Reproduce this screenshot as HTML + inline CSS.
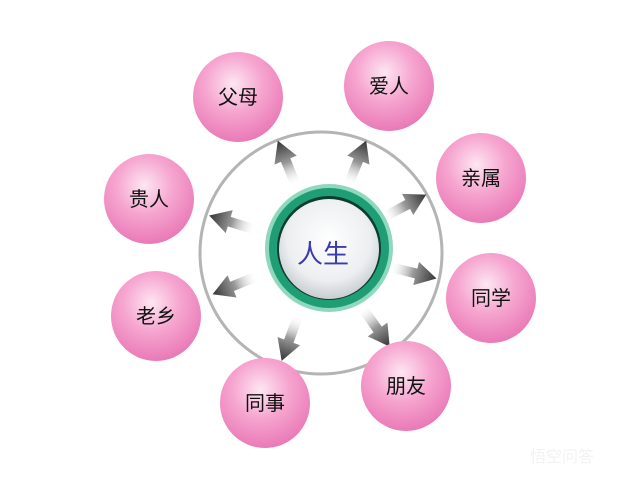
<!DOCTYPE html>
<html><head><meta charset="utf-8"><style>
html,body{margin:0;padding:0;background:#fff;}
svg{display:block;}
text{font-family:"Liberation Sans","Noto Sans CJK SC",sans-serif;}
</style></head><body>
<svg width="640" height="479" viewBox="0 0 640 479">
<defs>
<radialGradient id="pk" cx="0.45" cy="0.35" r="0.7">
<stop offset="0" stop-color="#fde6f2"/><stop offset="0.45" stop-color="#f6a6d0"/><stop offset="1" stop-color="#e873b3"/>
</radialGradient>
<radialGradient id="wh" cx="0.5" cy="0.4" r="0.6">
<stop offset="0" stop-color="#ffffff"/><stop offset="0.7" stop-color="#eceef0"/><stop offset="1" stop-color="#c9cdd0"/>
</radialGradient>
<linearGradient id="ar" x1="0" y1="0" x2="1" y2="0">
<stop offset="0" stop-color="#fff" stop-opacity="0"/><stop offset="0.5" stop-color="#999"/><stop offset="1" stop-color="#333"/>
</linearGradient>
<polygon id="a" points="70,-5 97,-5 97,-12 118,0 97,12 97,5 70,5" fill="url(#ar)"/>
</defs>
<circle cx="321" cy="253" r="121" fill="none" stroke="#b4b4b4" stroke-width="3"/>
<g transform="translate(322,250)">
<use href="#a" transform="rotate(-112)"/>
<use href="#a" transform="rotate(-68)"/>
<use href="#a" transform="rotate(-28)"/>
<use href="#a" transform="rotate(14)"/>
<use href="#a" transform="rotate(55)"/>
<use href="#a" transform="rotate(110)"/>
<use href="#a" transform="rotate(158)"/>
<use href="#a" transform="rotate(-163)"/>
</g>
<circle cx="329" cy="248" r="64" fill="#8fd8bd"/>
<circle cx="329" cy="248" r="60" fill="#1f9e76"/>
<circle cx="329" cy="248" r="52" fill="#0d3d2c"/>
<circle cx="329" cy="249" r="50" fill="url(#wh)"/>
<text x="323" y="263" font-size="26" fill="#3b3bb0" text-anchor="middle">人生</text>
<g font-size="20" fill="#111" text-anchor="middle">
<circle cx="238" cy="97" r="45" fill="url(#pk)"/><text x="238" y="104">父母</text>
<circle cx="389" cy="86" r="45" fill="url(#pk)"/><text x="389" y="93">爱人</text>
<circle cx="481" cy="178" r="45" fill="url(#pk)"/><text x="481" y="185">亲属</text>
<circle cx="491" cy="298" r="45" fill="url(#pk)"/><text x="491" y="305">同学</text>
<circle cx="406" cy="386" r="45" fill="url(#pk)"/><text x="406" y="393">朋友</text>
<circle cx="265" cy="403" r="45" fill="url(#pk)"/><text x="265" y="410">同事</text>
<circle cx="156" cy="316" r="45" fill="url(#pk)"/><text x="156" y="323">老乡</text>
<circle cx="149" cy="199" r="45" fill="url(#pk)"/><text x="149" y="206">贵人</text>
</g>
<text x="562" y="462" font-size="16" fill="#f2f2f2" text-anchor="middle">悟空问答</text>
</svg>
</body></html>
